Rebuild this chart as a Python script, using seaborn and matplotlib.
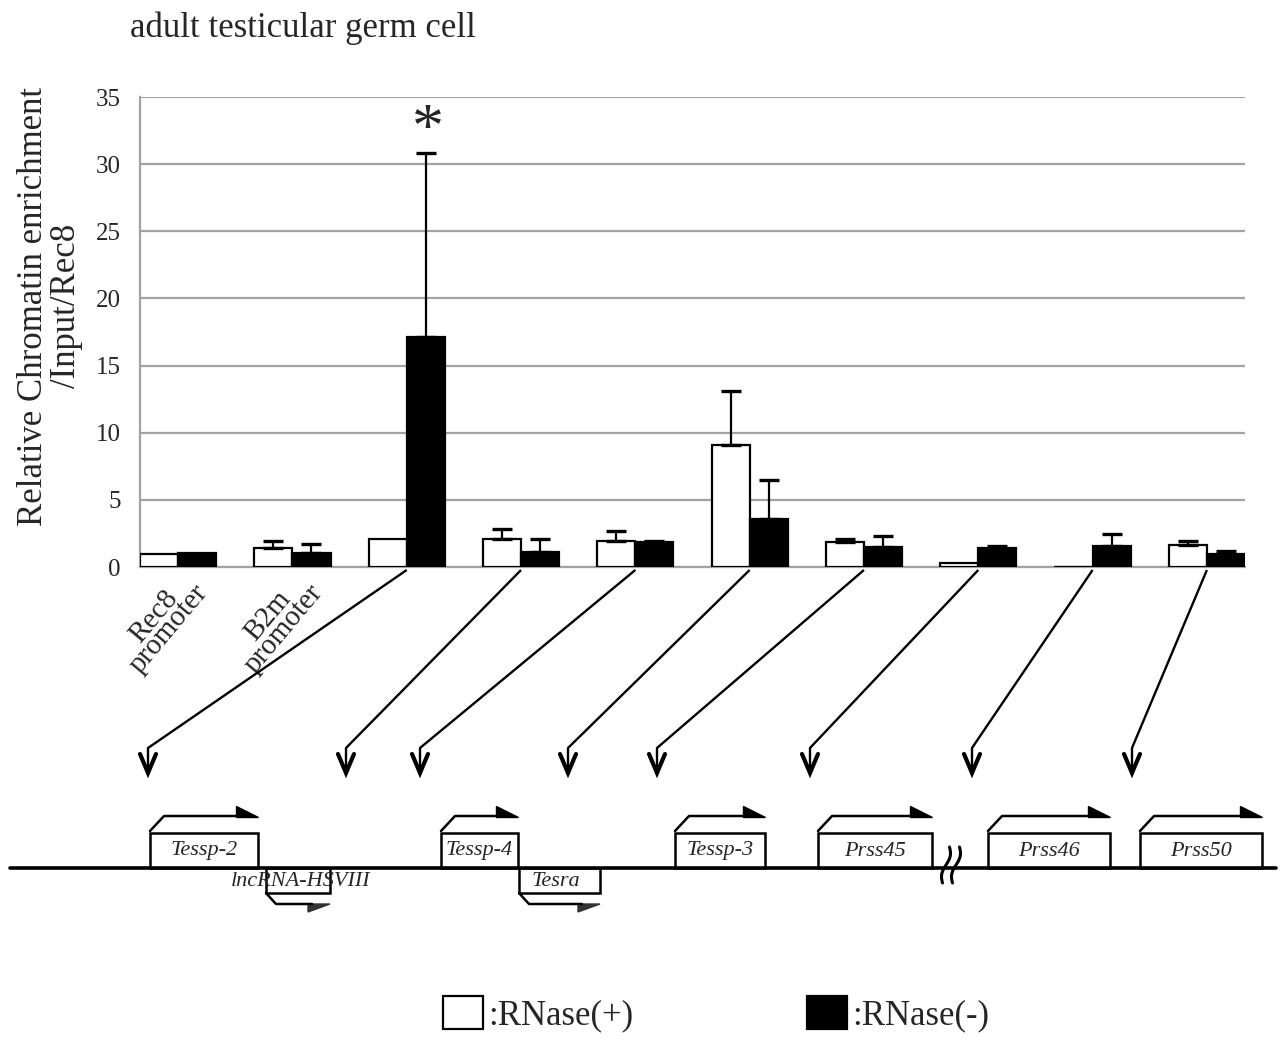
import numpy as np
import pandas as pd
import seaborn as sns
import matplotlib.pyplot as plt
from matplotlib.patches import Rectangle, Polygon

# data
regions = ["Rec8\npromoter", "B2m\npromoter", "r3", "r4", "r5", "r6", "r7", "r8", "r9", "r10"]
tick_labels = ["Rec8\npromoter", "B2m\npromoter", "", "", "", "", "", "", "", ""]
treatments = [":RNase(+)", ":RNase(-)"]
rnase_plus = [1.0, 1.45, 2.1, 2.05, 1.9, 9.1, 1.85, 0.3, 0.0, 1.65]
rnase_plus_err = [0.0, 0.5, 0.0, 0.8, 0.75, 4.0, 0.25, 0.0, 0.0, 0.25]
rnase_minus = [1.05, 1.05, 17.1, 1.15, 1.85, 3.55, 1.5, 1.4, 1.6, 1.0]
rnase_minus_err = [0.0, 0.65, 13.7, 0.95, 0.1, 2.95, 0.8, 0.18, 0.85, 0.2]

# gene map annotations (pixel layout of the diagram)
arrow_targets = [148, 346, 420, 568, 657, 810, 972, 1132]
genes_top = [("Tessp-2", 150, 258), ("Tessp-4", 441, 518), ("Tessp-3", 675, 765),
             ("Prss45", 818, 932), ("Prss46", 988, 1110), ("Prss50", 1140, 1262)]
genes_bottom = [("lncRNA-HSVIII", 266, 330), ("Tesra", 519, 600)]

df = pd.DataFrame({
    "region": regions * 2,
    "treatment": [treatments[0]] * len(regions) + [treatments[1]] * len(regions),
    "value": rnase_plus + rnase_minus,
})

W, H = 1286, 1039
sns.set_style("white")
plt.rcParams["font.family"] = ["Liberation Serif", "DejaVu Serif"]

fig = plt.figure(figsize=(W / 100, H / 100), dpi=100)
ax = fig.add_axes([140 / W, (H - 567) / H, 1105 / W, 470 / H])

sns.barplot(data=df, x="region", y="value", hue="treatment", order=regions,
            hue_order=treatments, palette=["white", "black"], edgecolor="black",
            linewidth=1.6, width=0.667, errorbar=None, ax=ax, zorder=3)

for cont, errs in zip(ax.containers, [rnase_plus_err, rnase_minus_err]):
    for bar, e in zip(cont, errs):
        if e <= 0:
            continue
        xc = bar.get_x() + bar.get_width() / 2
        ax.errorbar(xc, bar.get_height(), yerr=[[0], [e]], fmt="none", ecolor="black",
                    elinewidth=1.6, capsize=7, capthick=2.4, zorder=4)

handles, labels = ax.get_legend_handles_labels()
ax.get_legend().remove()

ax.set_xlim(-1 / 3, 9 + 1 / 3)
ax.set_ylim(0, 35)
ax.set_yticks(range(0, 36, 5))
ax.yaxis.grid(True, color="#a3a3a3", linewidth=1.6, zorder=0)
ax.set_axisbelow(True)
for s in ["top", "right"]:
    ax.spines[s].set_visible(False)
for s in ["left", "bottom"]:
    ax.spines[s].set_color("#a3a3a3")
    ax.spines[s].set_linewidth(1.6)
ax.tick_params(axis="y", length=5, color="#a3a3a3", labelsize=18, pad=9)
ax.tick_params(axis="x", length=0, pad=0)
ax.set_xticks(range(len(regions)))
ax.set_xticklabels(tick_labels, rotation=50, ha="right", rotation_mode="anchor",
                   fontsize=21, multialignment="center", linespacing=0.7)
ax.set_xlabel("")
ax.set_ylabel("Relative Chromatin enrichment\n/Input/Rec8", fontsize=25, linespacing=1.0)
ax.yaxis.set_label_coords(-0.052, 0.555)

# asterisk over the significant bar
star_bar = ax.containers[1][2]
ax.text(star_bar.get_x() + star_bar.get_width() / 2 + 2 / 114, 32.4, "*", ha="center",
        va="center", fontsize=46)

fig.text(130 / W, 1 - 37 / H, "adult testicular germ cell", fontsize=25, va="baseline")

# overlay in pixel coordinates for the gene diagram
fig.canvas.draw()
ov = fig.add_axes([0, 0, 1, 1])
ov.set_xlim(0, W)
ov.set_ylim(H, 0)
ov.axis("off")
ov.patch.set_alpha(0)

for i, tx in enumerate(arrow_targets):
    px, py = ax.transData.transform((i + 2, 0))
    sy = H - py + 3
    ov.plot([px, tx, tx], [sy, 748, 771], color="black", lw=1.7, solid_capstyle="butt")
    ov.plot([tx - 8, tx, tx + 8], [754, 773, 754], color="black", lw=3.0,
            solid_joinstyle="miter")

line_y = 868
ov.plot([10, 1276], [line_y, line_y], color="black", lw=2.6)
for bx in [946, 956]:
    t = np.linspace(0, 1, 30)
    ov.plot(bx + 5 * np.sin(t * np.pi * 2) * 0.5 - 7 * (t - 0.5), 847 + 36 * t,
            color="black", lw=2.2)

for name, x0, x1 in genes_top:
    ov.add_patch(Rectangle((x0, 833), x1 - x0, line_y - 833, facecolor="white",
                           edgecolor="black", lw=1.8))
    ov.text((x0 + x1) / 2, 851, name, ha="center", va="center", fontsize=16,
            style="italic")
    ov.plot([x0, x0 + 14, x1 - 18], [831, 816, 816], color="black", lw=1.8)
    ov.add_patch(Polygon([[x1 - 22, 806], [x1 - 22, 817], [x1, 817]], closed=True,
                         facecolor="black", edgecolor="black", lw=1))

for name, x0, x1 in genes_bottom:
    ov.add_patch(Rectangle((x0, line_y), x1 - x0, 25, facecolor="none",
                           edgecolor="black", lw=1.8))
    ov.plot([x0, x0 + 10, x1 - 18], [line_y + 25, line_y + 36, line_y + 36],
            color="black", lw=1.8)
    ov.add_patch(Polygon([[x1 - 22, line_y + 36], [x1 - 22, line_y + 44], [x1, line_y + 36]],
                         closed=True, facecolor="#333333", edgecolor="#333333", lw=1))
ov.text(301, 881, "lncRNA-HSVIII", ha="center", va="center", fontsize=16, style="italic")
ov.text(556, 881, "Tesra", ha="center", va="center", fontsize=16, style="italic")

fig.legend(handles, labels, loc="center", bbox_to_anchor=(716 / W, 25 / H), ncol=2,
           frameon=False, fontsize=25, handlelength=1.15, handleheight=1.1,
           handletextpad=0.15, columnspacing=5.0)

fig.savefig("out.png", dpi=100)
